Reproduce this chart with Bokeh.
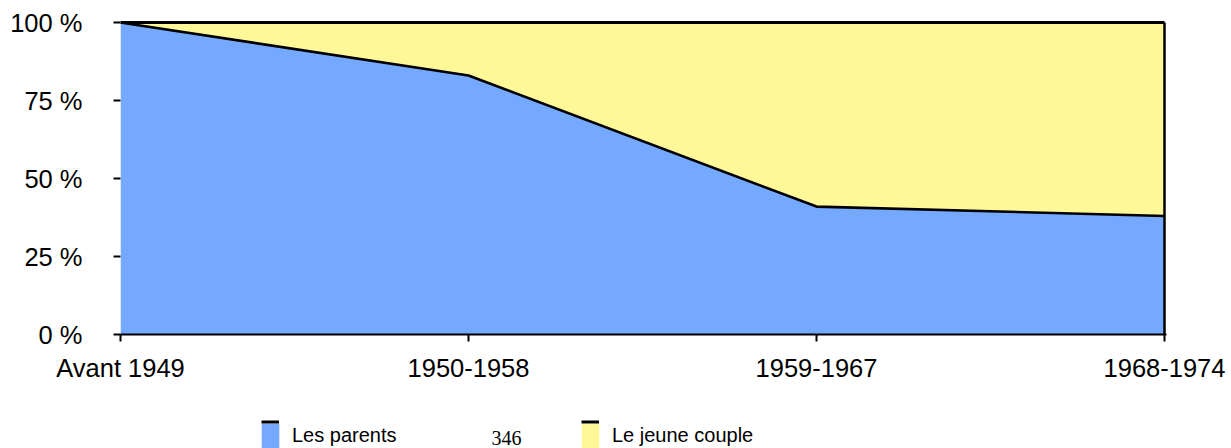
from bokeh.plotting import figure
from bokeh.layouts import column
from bokeh.models import ColumnDataSource, Range1d, FixedTicker, Legend, LegendItem, Label
from bokeh.embed import file_html
from bokeh.resources import INLINE

# ---- data ----
categories = ["Avant 1949", "1950-1958", "1959-1967", "1968-1974"]
les_parents = [100, 83, 41, 38]
le_jeune_couple = [0, 17, 59, 62]
series_names = ["Les parents", "Le jeune couple"]
y_ticks = [0, 25, 50, 75, 100]
y_tick_labels = ["0 %", "25 %", "50 %", "75 %", "100 %"]
page_number = "346"

# ---- style ----
BLUE = "#75A8FF"
YELLOW = "#FFF899"
FONT = "Liberation Sans"

W = 1231
H1, H2 = 390, 58
LEFT, TOP = 120, 20
FW, FH = 1046, 314
RIGHT = W - LEFT - FW

x_idx = list(range(len(categories)))
src = ColumnDataSource(dict(x=x_idx, parents=les_parents, couple=le_jeune_couple))
n = len(categories) - 1
stackers = ["parents", "couple"]
fills = [BLUE, YELLOW]

p = figure(width=W, height=H1, output_backend="svg", toolbar_location=None,
           x_range=Range1d(0, n * FW / (FW - 2)),
           y_range=Range1d(0, 100 * FH / (FH - 2)),
           min_border_left=LEFT, min_border_top=TOP,
           min_border_right=RIGHT, min_border_bottom=H1 - TOP - FH)
p.outline_line_color = None
p.border_fill_color = "white"
p.xgrid.visible = False
p.ygrid.visible = False

areas = p.varea_stack(stackers, x="x", source=src, color=fills)
p.vline_stack(stackers, x="x", source=src, color="black", line_width=[2.6, 3])
p.segment(x0=[x_idx[-1]], y0=[0], x1=[x_idx[-1]],
          y1=[les_parents[-1] + le_jeune_couple[-1]], line_color="black", line_width=2.5)

# x axis
xa = p.xaxis[0]
xa.ticker = FixedTicker(ticks=x_idx)
xa.major_label_overrides = {i: c for i, c in zip(x_idx, categories)}
xa.minor_tick_line_color = None
xa.major_tick_out = 7
xa.major_tick_in = 0
xa.major_tick_line_width = 2
xa.major_tick_line_color = "black"
xa.axis_line_width = 2
xa.axis_line_color = "black"
xa.major_label_text_font = FONT
xa.major_label_text_font_size = "25.5px"
xa.major_label_text_color = "black"
xa.major_label_standoff = 12

# y axis
ya = p.yaxis[0]
ya.ticker = FixedTicker(ticks=y_ticks)
ya.major_label_overrides = {t: l for t, l in zip(y_ticks, y_tick_labels)}
ya.minor_tick_line_color = None
ya.axis_line_color = None
ya.major_tick_out = 7
ya.major_tick_in = 0
ya.major_tick_line_width = 2
ya.major_tick_line_color = "black"
ya.major_label_text_font = FONT
ya.major_label_text_font_size = "25.5px"
ya.major_label_text_color = "black"
ya.major_label_standoff = 31

# ---- legend strip (same frame as the chart, screen-like data coordinates) ----
p2 = figure(width=W, height=H2, output_backend="svg", toolbar_location=None,
            x_range=Range1d(LEFT, LEFT + FW), y_range=Range1d(H2, 0),
            x_axis_location=None, y_axis_location=None,
            min_border_left=LEFT, min_border_right=RIGHT, min_border_top=0, min_border_bottom=0)
p2.outline_line_color = None
p2.border_fill_color = "white"
p2.xgrid.visible = False
p2.ygrid.visible = False

# same series drawn in p2 (outside its visible range) only to feed the legend glyphs
leg_areas = p2.varea_stack(stackers, x="x", source=src, color=fills)
leg_lines = p2.vline_stack(stackers, x="x", source=src, color="black", line_width=3)

legend_x = [259, 579]
for name, ra, rl, sx in zip(series_names, leg_areas, leg_lines, legend_x):
    vx = sx - LEFT
    p2.add_layout(Legend(items=[LegendItem(label=name, renderers=[ra])],
                         location=(vx, -5), orientation="horizontal",
                         glyph_width=22, glyph_height=31, label_height=36,
                         label_standoff=11, label_text_font=FONT,
                         label_text_font_size="20px", label_text_color="black",
                         padding=0, margin=0, spacing=0,
                         border_line_color=None, background_fill_alpha=0))
    p2.add_layout(Legend(items=[LegendItem(label=" ", renderers=[rl])],
                         location=(vx + 2, 23), orientation="horizontal",
                         glyph_width=18, glyph_height=7, label_height=7, label_width=1,
                         label_standoff=0, label_text_font_size="1px",
                         padding=0, margin=0, spacing=0,
                         border_line_color=None, background_fill_alpha=0))

p2.add_layout(Label(x=506, y=47, text=page_number,
                    text_font="Liberation Serif", text_font_size="20px",
                    text_align="center", text_baseline="middle", text_color="black"))

layout = column(p, p2, spacing=0)
open("out.html", "w").write(file_html(layout, INLINE))
